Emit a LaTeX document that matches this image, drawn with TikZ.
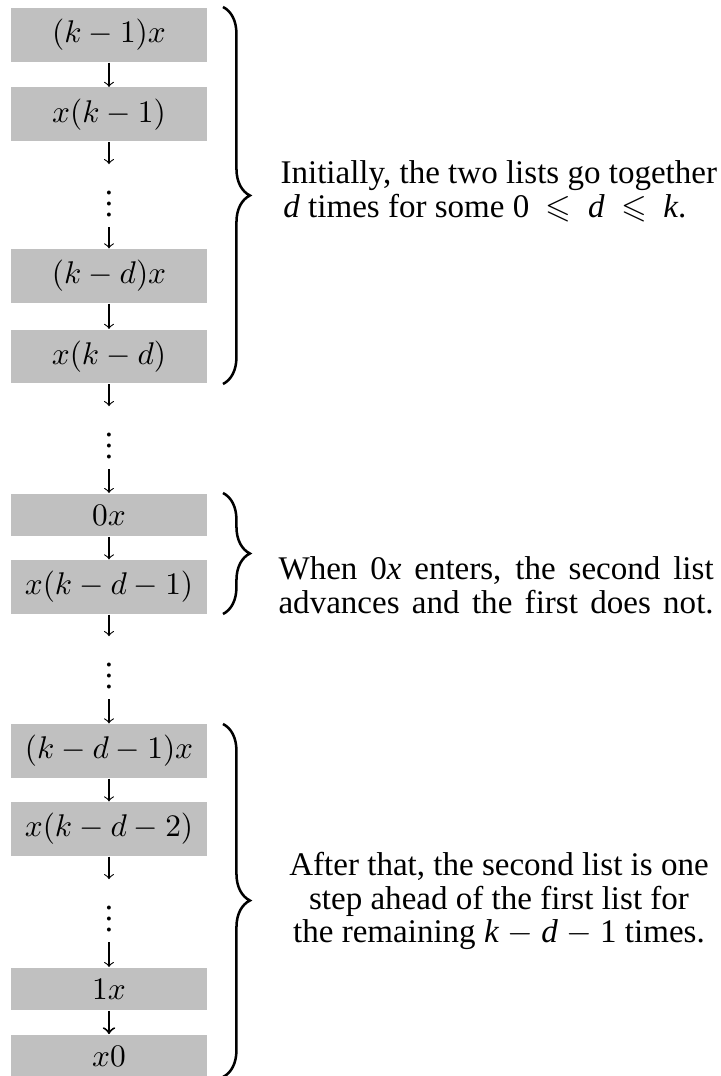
\RequirePackage{fix-cm}
\documentclass[tikz,border=0pt]{standalone}
\usepackage{amssymb}
\usepackage{fontspec}
\setmainfont{Liberation Serif}
\usetikzlibrary{decorations.pathreplacing}
\definecolor{cellgray}{RGB}{192,192,192}
\begin{document}
\begin{tikzpicture}[x=0.357143pt,y=-0.357143pt,
  cell/.style={fill=cellgray, minimum width=70pt, inner xsep=0pt, inner ysep=4.04pt,
    font=\fontsize{11.2}{13.4}\selectfont},
  vdotsnode/.style={inner sep=3.33pt, font=\fontsize{11.8}{12.1}\selectfont},
  flow/.style={->, line width=0.4pt},
  flowbold/.style={->, line width=0.7pt},
  brc/.style={decorate, decoration={brace, amplitude=9.6pt}, line width=0.9pt},
  note/.style={font=\fontsize{11.8}{12.1}\selectfont, inner sep=0pt}]
\useasboundingbox (0,0) rectangle (720,1076);

% column of cells
\node[cell] (b1) at (109,35) {$(k-1)x$};
\node[cell] (b2) at (109,114.5) {$x(k-1)$};
\node[vdotsnode] (d1) at (109,195.6) {$\vdots$};
\node[cell] (b3) at (109,276) {$(k-d)x$};
\node[cell] (b4) at (109,356.5) {$x(k-d)$};
\node[vdotsnode] (d2) at (109,437.6) {$\vdots$};
\node[cell] (b5) at (109,515) {$0x$};
\node[cell] (b6) at (109,587) {$x(k-d-1)$};
\node[vdotsnode] (d3) at (109,667.6) {$\vdots$};
\node[cell] (b7) at (109,751) {$(k-d-1)x$};
\node[cell] (b8) at (109,829) {$x(k-d-2)$};
\node[vdotsnode] (d4) at (109,910.6) {$\vdots$};
\node[cell] (b9) at (109,989) {$1x$};
\node[cell] (b10) at (109,1056) {$x0$};

% arrows
\draw[flow] (b1) -- (b2);
\draw[flow] (b2) -- (d1);
\draw[flow] (d1) -- (b3);
\draw[flow] (b3) -- (b4);
\draw[flow] (b4) -- (d2);
\draw[flow] (d2) -- (b5);
\draw[flow] (b5) -- (b6);
\draw[flow] (b6) -- (d3);
\draw[flow] (d3) -- (b7);
\draw[flow] (b7) -- (b8);
\draw[flow] (b8) -- (d4);
\draw[flow] (d4) -- (b9);
\draw[flowbold] (b9) -- (b10);

% braces
\coordinate (t1) at (223,7);
\coordinate (e1) at (223,384);
\coordinate (t2) at (223,493);
\coordinate (e2) at (223,614);
\coordinate (t3) at (223,724);
\coordinate (e3) at (223,1077);
\draw[brc] (t1) -- (e1);
\draw[brc] (t2) -- (e2);
\draw[brc] (t3) -- (e3);

% notes
\node[note, align=left, anchor=west] (n1) at (280,191) {Initially, the two lists go together\\\hspace*{1pt}\textit{d} times for some 0\enspace$\leqslant$\enspace\textit{d}\enspace$\leqslant$\enspace\textit{k}.};
\node[note, align=left, anchor=west] (n2) at (278,585) {\makebox[155.4pt][s]{When 0\textit{x} enters, the second list}\\\makebox[155.4pt][s]{advances and the first does not.}};
\node[note, align=center] (n3) at (499,901) {After that, the second list is one\\step ahead of the first list for\\the remaining \textit{k}~$-$~\textit{d}~$-$~1 times.};
\end{tikzpicture}
\end{document}
